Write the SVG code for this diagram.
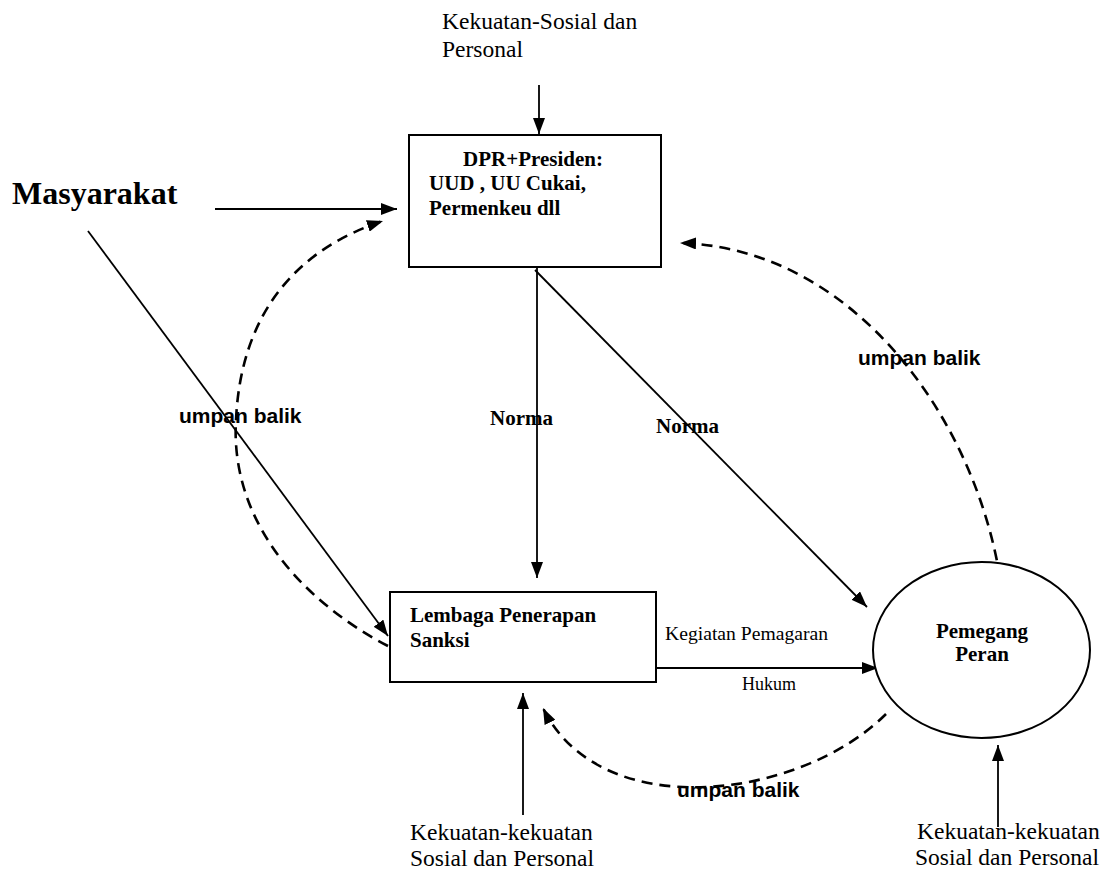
<svg xmlns="http://www.w3.org/2000/svg" width="1107" height="878" viewBox="0 0 1107 878">
<defs>
<style>
.serif{font-family:"Liberation Serif","Times New Roman",serif;fill:#000}
.b{font-weight:bold}
.sans{font-family:"Liberation Sans",Arial,sans-serif;font-weight:bold;font-size:21px;fill:#000}
.box{fill:#fff;stroke:#000;stroke-width:2}
.ln{fill:none;stroke:#000;stroke-width:1.8}
.dash{fill:none;stroke:#000;stroke-width:2.6;stroke-dasharray:11 7}
</style>
<marker id="ah" viewBox="0 0 16 12" refX="16" refY="6" markerWidth="16" markerHeight="12" markerUnits="userSpaceOnUse" orient="auto">
<path d="M0,0 L16,6 L0,12 z" fill="#000" stroke="none"/>
</marker>
</defs>
<rect width="1107" height="878" fill="#fff"/>

<g id="connectors">
<line class="ln" x1="539" y1="85" x2="539" y2="134" marker-end="url(#ah)"/>
<line class="ln" x1="215" y1="209" x2="397" y2="209" marker-end="url(#ah)"/>
<line class="ln" x1="88" y1="231" x2="388" y2="636" marker-end="url(#ah)"/>
<line class="ln" x1="537" y1="268" x2="537" y2="578" marker-end="url(#ah)"/>
<line class="ln" x1="535" y1="270" x2="867" y2="607" marker-end="url(#ah)"/>
<line class="ln" x1="656" y1="668" x2="878" y2="668" marker-end="url(#ah)"/>
<line class="ln" x1="523" y1="815" x2="523" y2="693" marker-end="url(#ah)"/>
<line class="ln" x1="998" y1="827" x2="998" y2="745" marker-end="url(#ah)"/>
<path class="dash" d="M388,646 C300,600 230,520 236,420 C241,310 300,248 383,221" marker-end="url(#ah)"/>
<path class="dash" d="M1000,578 C975,420 855,248 680,243" marker-end="url(#ah)"/>
<path class="dash" d="M886,714 C800,800 600,825 543,708" marker-end="url(#ah)"/>
</g>

<g id="top-forces">
<text class="serif" font-size="23.5" x="442" y="29">Kekuatan-Sosial dan</text>
<text class="serif" font-size="23.5" x="442" y="57">Personal</text>
</g>

<g id="masyarakat">
<text class="serif b" font-size="32" x="12" y="204">Masyarakat</text>
</g>

<g id="dpr">
<rect class="box" x="409" y="135" width="252" height="132"/>
<text class="serif b" font-size="21" x="463" y="166">DPR+Presiden:</text>
<text class="serif b" font-size="21" x="429" y="190">UUD , UU Cukai,</text>
<text class="serif b" font-size="21" x="429" y="215">Permenkeu dll</text>
</g>

<g id="lembaga">
<rect class="box" x="390" y="592" width="266" height="90"/>
<text class="serif b" font-size="21" x="410" y="622">Lembaga Penerapan</text>
<text class="serif b" font-size="21" x="410" y="647">Sanksi</text>
</g>

<g id="pemegang">
<ellipse cx="981.5" cy="650" rx="108.5" ry="88" fill="#fff" stroke="#000" stroke-width="2"/>
<text class="serif b" font-size="21" x="982" y="638" text-anchor="middle">Pemegang</text>
<text class="serif b" font-size="21" x="982" y="661" text-anchor="middle">Peran</text>
</g>

<g id="labels">
<text class="serif b" font-size="21" x="490" y="425">Norma</text>
<text class="serif b" font-size="21" x="656" y="433">Norma</text>
<text class="serif" font-size="18" x="665" y="640" textLength="163" lengthAdjust="spacingAndGlyphs">Kegiatan Pemagaran</text>
<text class="serif" font-size="18" x="742" y="690" textLength="54" lengthAdjust="spacingAndGlyphs">Hukum</text>
<text class="sans" x="179" y="423">umpan balik</text>
<text class="sans" x="858" y="365">umpan balik</text>
<text class="sans" x="677" y="797">umpan balik</text>
</g>

<g id="bottom-forces-left">
<text class="serif" font-size="23.5" x="410" y="840">Kekuatan-kekuatan</text>
<text class="serif" font-size="23.5" x="410" y="866">Sosial dan Personal</text>
</g>

<g id="bottom-forces-right">
<text class="serif" font-size="23.5" x="917" y="839">Kekuatan-kekuatan</text>
<text class="serif" font-size="23.5" x="915" y="865">Sosial dan Personal</text>
</g>
</svg>
